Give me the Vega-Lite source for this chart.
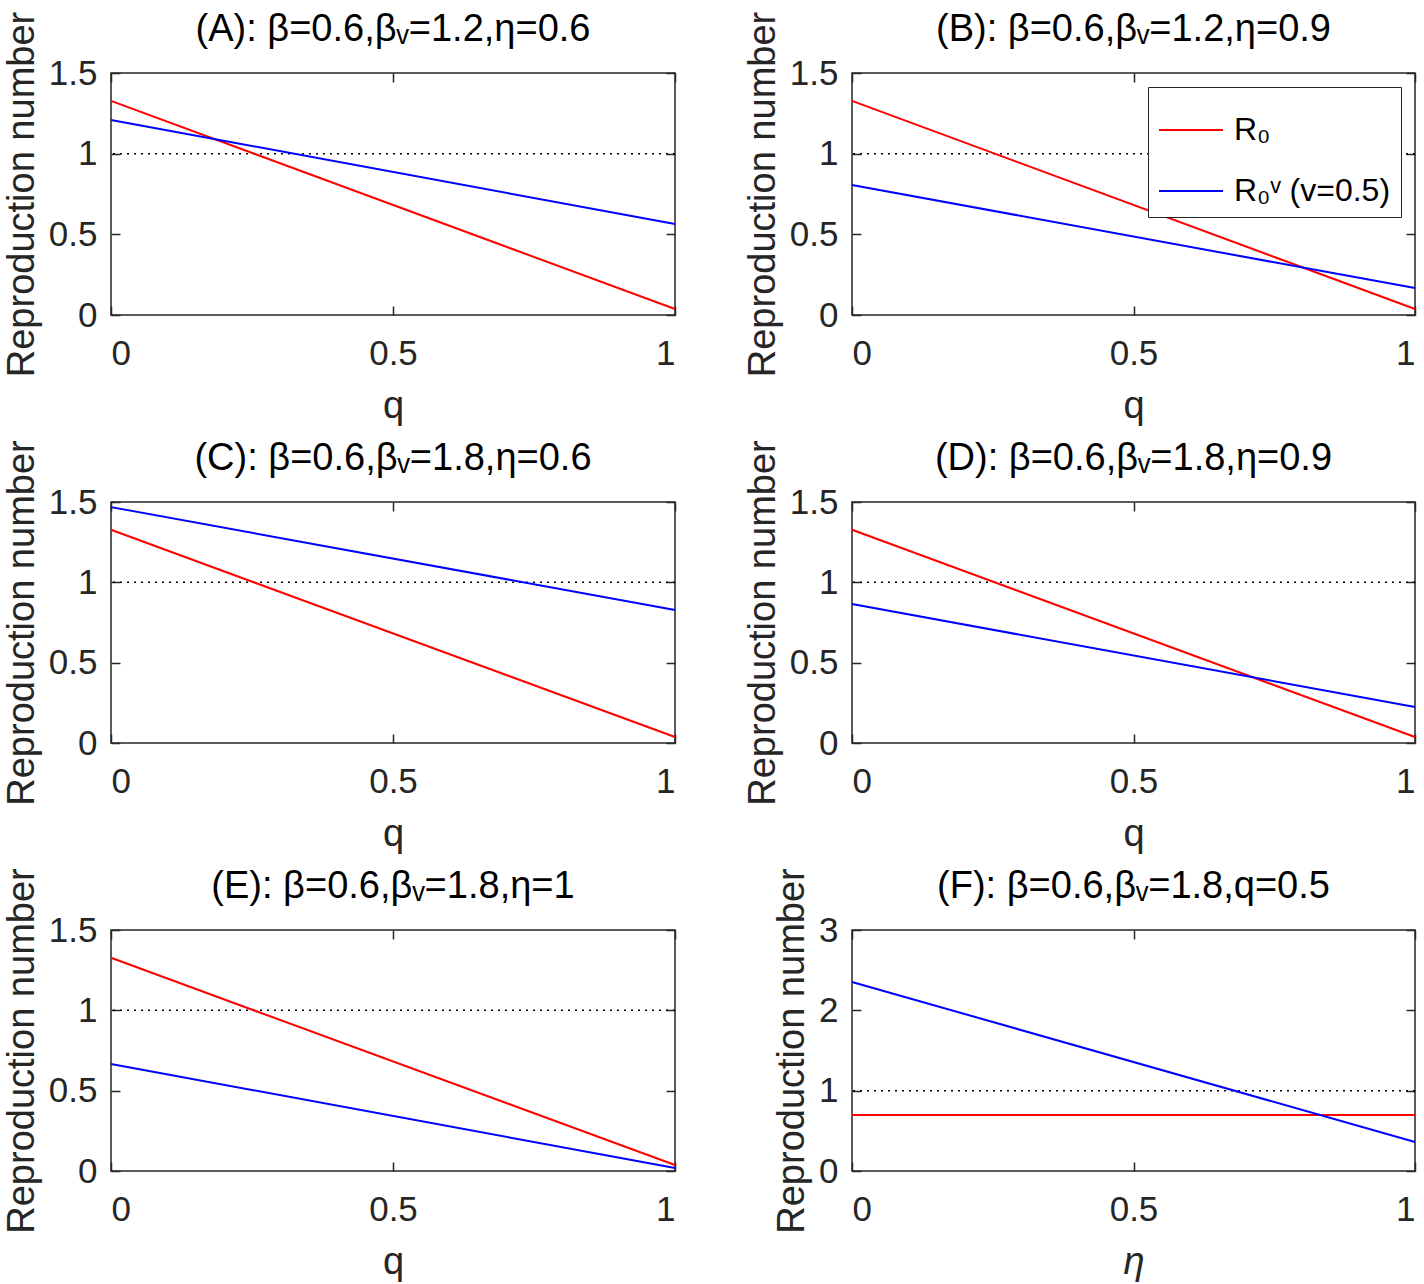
{
  "$schema": "https://vega.github.io/schema/vega-lite/v6.json",
  "background": "white",
  "padding": {"left": 2, "top": 10, "right": 0, "bottom": 0},
  "datasets": {
    "curves": [
      {"p": "A", "s": "R₀", "x": 0, "y": 1.327}, {"p": "A", "s": "R₀", "x": 1, "y": 0.037},
      {"p": "A", "s": "R₀ᵛ (v=0.5)", "x": 0, "y": 1.209}, {"p": "A", "s": "R₀ᵛ (v=0.5)", "x": 1, "y": 0.564},
      {"p": "B", "s": "R₀", "x": 0, "y": 1.327}, {"p": "B", "s": "R₀", "x": 1, "y": 0.037},
      {"p": "B", "s": "R₀ᵛ (v=0.5)", "x": 0, "y": 0.806}, {"p": "B", "s": "R₀ᵛ (v=0.5)", "x": 1, "y": 0.167},
      {"p": "C", "s": "R₀", "x": 0, "y": 1.327}, {"p": "C", "s": "R₀", "x": 1, "y": 0.037},
      {"p": "C", "s": "R₀ᵛ (v=0.5)", "x": 0, "y": 1.468}, {"p": "C", "s": "R₀ᵛ (v=0.5)", "x": 1, "y": 0.828},
      {"p": "D", "s": "R₀", "x": 0, "y": 1.327}, {"p": "D", "s": "R₀", "x": 1, "y": 0.037},
      {"p": "D", "s": "R₀ᵛ (v=0.5)", "x": 0, "y": 0.865}, {"p": "D", "s": "R₀ᵛ (v=0.5)", "x": 1, "y": 0.224},
      {"p": "E", "s": "R₀", "x": 0, "y": 1.327}, {"p": "E", "s": "R₀", "x": 1, "y": 0.037},
      {"p": "E", "s": "R₀ᵛ (v=0.5)", "x": 0, "y": 0.666}, {"p": "E", "s": "R₀ᵛ (v=0.5)", "x": 1, "y": 0.019},
      {"p": "F", "s": "R₀", "x": 0, "y": 0.697}, {"p": "F", "s": "R₀", "x": 1, "y": 0.697},
      {"p": "F", "s": "R₀ᵛ (v=0.5)", "x": 0, "y": 2.353}, {"p": "F", "s": "R₀ᵛ (v=0.5)", "x": 1, "y": 0.361}
    ],
    "threshold": [{"level": 1}]
  },
  "config": {
    "font": "Liberation Sans",
    "view": {"stroke": "#262626", "strokeWidth": 1.5},
    "axis": {
      "grid": false, "domain": false, "tickSize": -9, "tickColor": "#262626", "tickWidth": 1.5,
      "labelFontSize": 35, "titleFontSize": 38, "labelColor": "#262626", "titleColor": "#262626",
      "titleFontWeight": "normal", "format": "~g"
    },
    "axisX": {"labelPadding": 30, "titlePadding": 16},
    "axisY": {"labelPadding": 23, "titlePadding": 7},
    "title": {"fontSize": 38, "fontWeight": "normal", "color": "black", "offset": -38, "frame": "group"},
    "legend": {
      "strokeColor": "#262626", "fillColor": "white", "padding": 10, "symbolType": "stroke",
      "symbolSize": 4096, "symbolStrokeWidth": 2, "labelFontSize": 32, "labelColor": "black",
      "rowPadding": 12, "labelOffset": 10, "title": null
    }
  },
  "resolve": {"legend": {"color": "independent"}},
  "bounds": "flush",
  "columns": 2,
  "spacing": {"row": 187, "column": 177},
  "concat": [
    {
      "width": 564, "height": 242,
      "title": "(A): β=0.6,βᵥ=1.2,η=0.6",
      "layer": [
        {"data": {"name": "threshold"}, "mark": {"type": "rule", "strokeDash": [2, 5], "color": "black", "strokeWidth": 1.5},
         "encoding": {"y": {"field": "level", "type": "quantitative", "axis": null}}},
        {"data": {"name": "curves"}, "transform": [{"filter": "datum.p == 'A'"}],
         "mark": {"type": "line", "strokeWidth": 2},
         "encoding": {
           "x": {"field": "x", "type": "quantitative", "scale": {"domain": [0, 1], "nice": false}, "axis": {"orient": "bottom", "values": [0, 0.5, 1], "title": "q"}},
           "y": {"field": "y", "type": "quantitative", "scale": {"domain": [0, 1.5], "nice": false}, "axis": {"orient": "left", "values": [0, 0.5, 1, 1.5], "title": "Reproduction number"}},
           "color": {"field": "s", "type": "nominal", "scale": {"domain": ["R₀", "R₀ᵛ (v=0.5)"], "range": ["#ff0000", "#0000ff"]}, "legend": null}
         }},
        {"data": {"name": "curves"}, "transform": [{"filter": "datum.p == 'A'"}],
         "mark": {"type": "point", "opacity": 0},
         "encoding": {
           "x": {"field": "x", "type": "quantitative", "axis": {"orient": "top", "values": [0, 0.5, 1], "labels": false, "title": null}},
           "y": {"field": "y", "type": "quantitative", "axis": {"orient": "right", "values": [0, 0.5, 1, 1.5], "labels": false, "title": null}}
         }}
      ],
      "resolve": {"axis": {"x": "independent", "y": "independent"}}
    },
    {
      "width": 563, "height": 242,
      "title": "(B): β=0.6,βᵥ=1.2,η=0.9",
      "layer": [
        {"data": {"name": "threshold"}, "mark": {"type": "rule", "strokeDash": [2, 5], "color": "black", "strokeWidth": 1.5},
         "encoding": {"y": {"field": "level", "type": "quantitative", "axis": null}}},
        {"data": {"name": "curves"}, "transform": [{"filter": "datum.p == 'B'"}],
         "mark": {"type": "line", "strokeWidth": 2},
         "encoding": {
           "x": {"field": "x", "type": "quantitative", "scale": {"domain": [0, 1], "nice": false}, "axis": {"orient": "bottom", "values": [0, 0.5, 1], "title": "q"}},
           "y": {"field": "y", "type": "quantitative", "scale": {"domain": [0, 1.5], "nice": false}, "axis": {"orient": "left", "values": [0, 0.5, 1, 1.5], "title": "Reproduction number"}},
           "color": {"field": "s", "type": "nominal", "scale": {"domain": ["R₀", "R₀ᵛ (v=0.5)"], "range": ["#ff0000", "#0000ff"]},
                     "legend": {"orient": "top-right", "offset": 14}}
         }},
        {"data": {"name": "curves"}, "transform": [{"filter": "datum.p == 'B'"}],
         "mark": {"type": "point", "opacity": 0},
         "encoding": {
           "x": {"field": "x", "type": "quantitative", "axis": {"orient": "top", "values": [0, 0.5, 1], "labels": false, "title": null}},
           "y": {"field": "y", "type": "quantitative", "axis": {"orient": "right", "values": [0, 0.5, 1, 1.5], "labels": false, "title": null}}
         }}
      ],
      "resolve": {"axis": {"x": "independent", "y": "independent"}}
    },
    {
      "width": 564, "height": 241,
      "title": "(C): β=0.6,βᵥ=1.8,η=0.6",
      "layer": [
        {"data": {"name": "threshold"}, "mark": {"type": "rule", "strokeDash": [2, 5], "color": "black", "strokeWidth": 1.5},
         "encoding": {"y": {"field": "level", "type": "quantitative", "axis": null}}},
        {"data": {"name": "curves"}, "transform": [{"filter": "datum.p == 'C'"}],
         "mark": {"type": "line", "strokeWidth": 2},
         "encoding": {
           "x": {"field": "x", "type": "quantitative", "scale": {"domain": [0, 1], "nice": false}, "axis": {"orient": "bottom", "values": [0, 0.5, 1], "title": "q"}},
           "y": {"field": "y", "type": "quantitative", "scale": {"domain": [0, 1.5], "nice": false}, "axis": {"orient": "left", "values": [0, 0.5, 1, 1.5], "title": "Reproduction number"}},
           "color": {"field": "s", "type": "nominal", "scale": {"domain": ["R₀", "R₀ᵛ (v=0.5)"], "range": ["#ff0000", "#0000ff"]}, "legend": null}
         }},
        {"data": {"name": "curves"}, "transform": [{"filter": "datum.p == 'C'"}],
         "mark": {"type": "point", "opacity": 0},
         "encoding": {
           "x": {"field": "x", "type": "quantitative", "axis": {"orient": "top", "values": [0, 0.5, 1], "labels": false, "title": null}},
           "y": {"field": "y", "type": "quantitative", "axis": {"orient": "right", "values": [0, 0.5, 1, 1.5], "labels": false, "title": null}}
         }}
      ],
      "resolve": {"axis": {"x": "independent", "y": "independent"}}
    },
    {
      "width": 563, "height": 241,
      "title": "(D): β=0.6,βᵥ=1.8,η=0.9",
      "layer": [
        {"data": {"name": "threshold"}, "mark": {"type": "rule", "strokeDash": [2, 5], "color": "black", "strokeWidth": 1.5},
         "encoding": {"y": {"field": "level", "type": "quantitative", "axis": null}}},
        {"data": {"name": "curves"}, "transform": [{"filter": "datum.p == 'D'"}],
         "mark": {"type": "line", "strokeWidth": 2},
         "encoding": {
           "x": {"field": "x", "type": "quantitative", "scale": {"domain": [0, 1], "nice": false}, "axis": {"orient": "bottom", "values": [0, 0.5, 1], "title": "q"}},
           "y": {"field": "y", "type": "quantitative", "scale": {"domain": [0, 1.5], "nice": false}, "axis": {"orient": "left", "values": [0, 0.5, 1, 1.5], "title": "Reproduction number"}},
           "color": {"field": "s", "type": "nominal", "scale": {"domain": ["R₀", "R₀ᵛ (v=0.5)"], "range": ["#ff0000", "#0000ff"]}, "legend": null}
         }},
        {"data": {"name": "curves"}, "transform": [{"filter": "datum.p == 'D'"}],
         "mark": {"type": "point", "opacity": 0},
         "encoding": {
           "x": {"field": "x", "type": "quantitative", "axis": {"orient": "top", "values": [0, 0.5, 1], "labels": false, "title": null}},
           "y": {"field": "y", "type": "quantitative", "axis": {"orient": "right", "values": [0, 0.5, 1, 1.5], "labels": false, "title": null}}
         }}
      ],
      "resolve": {"axis": {"x": "independent", "y": "independent"}}
    },
    {
      "width": 564, "height": 241,
      "title": "(E): β=0.6,βᵥ=1.8,η=1",
      "layer": [
        {"data": {"name": "threshold"}, "mark": {"type": "rule", "strokeDash": [2, 5], "color": "black", "strokeWidth": 1.5},
         "encoding": {"y": {"field": "level", "type": "quantitative", "axis": null}}},
        {"data": {"name": "curves"}, "transform": [{"filter": "datum.p == 'E'"}],
         "mark": {"type": "line", "strokeWidth": 2},
         "encoding": {
           "x": {"field": "x", "type": "quantitative", "scale": {"domain": [0, 1], "nice": false}, "axis": {"orient": "bottom", "values": [0, 0.5, 1], "title": "q"}},
           "y": {"field": "y", "type": "quantitative", "scale": {"domain": [0, 1.5], "nice": false}, "axis": {"orient": "left", "values": [0, 0.5, 1, 1.5], "title": "Reproduction number"}},
           "color": {"field": "s", "type": "nominal", "scale": {"domain": ["R₀", "R₀ᵛ (v=0.5)"], "range": ["#ff0000", "#0000ff"]}, "legend": null}
         }},
        {"data": {"name": "curves"}, "transform": [{"filter": "datum.p == 'E'"}],
         "mark": {"type": "point", "opacity": 0},
         "encoding": {
           "x": {"field": "x", "type": "quantitative", "axis": {"orient": "top", "values": [0, 0.5, 1], "labels": false, "title": null}},
           "y": {"field": "y", "type": "quantitative", "axis": {"orient": "right", "values": [0, 0.5, 1, 1.5], "labels": false, "title": null}}
         }}
      ],
      "resolve": {"axis": {"x": "independent", "y": "independent"}}
    },
    {
      "width": 563, "height": 241,
      "title": "(F): β=0.6,βᵥ=1.8,q=0.5",
      "layer": [
        {"data": {"name": "threshold"}, "mark": {"type": "rule", "strokeDash": [2, 5], "color": "black", "strokeWidth": 1.5},
         "encoding": {"y": {"field": "level", "type": "quantitative", "axis": null}}},
        {"data": {"name": "curves"}, "transform": [{"filter": "datum.p == 'F'"}],
         "mark": {"type": "line", "strokeWidth": 2},
         "encoding": {
           "x": {"field": "x", "type": "quantitative", "scale": {"domain": [0, 1], "nice": false}, "axis": {"orient": "bottom", "values": [0, 0.5, 1], "title": "η", "titleFontStyle": "italic"}},
           "y": {"field": "y", "type": "quantitative", "scale": {"domain": [0, 3], "nice": false}, "axis": {"orient": "left", "values": [0, 1, 2, 3], "title": "Reproduction number"}},
           "color": {"field": "s", "type": "nominal", "scale": {"domain": ["R₀", "R₀ᵛ (v=0.5)"], "range": ["#ff0000", "#0000ff"]}, "legend": null}
         }},
        {"data": {"name": "curves"}, "transform": [{"filter": "datum.p == 'F'"}],
         "mark": {"type": "point", "opacity": 0},
         "encoding": {
           "x": {"field": "x", "type": "quantitative", "axis": {"orient": "top", "values": [0, 0.5, 1], "labels": false, "title": null}},
           "y": {"field": "y", "type": "quantitative", "axis": {"orient": "right", "values": [0, 1, 2, 3], "labels": false, "title": null}}
         }}
      ],
      "resolve": {"axis": {"x": "independent", "y": "independent"}}
    }
  ]
}
